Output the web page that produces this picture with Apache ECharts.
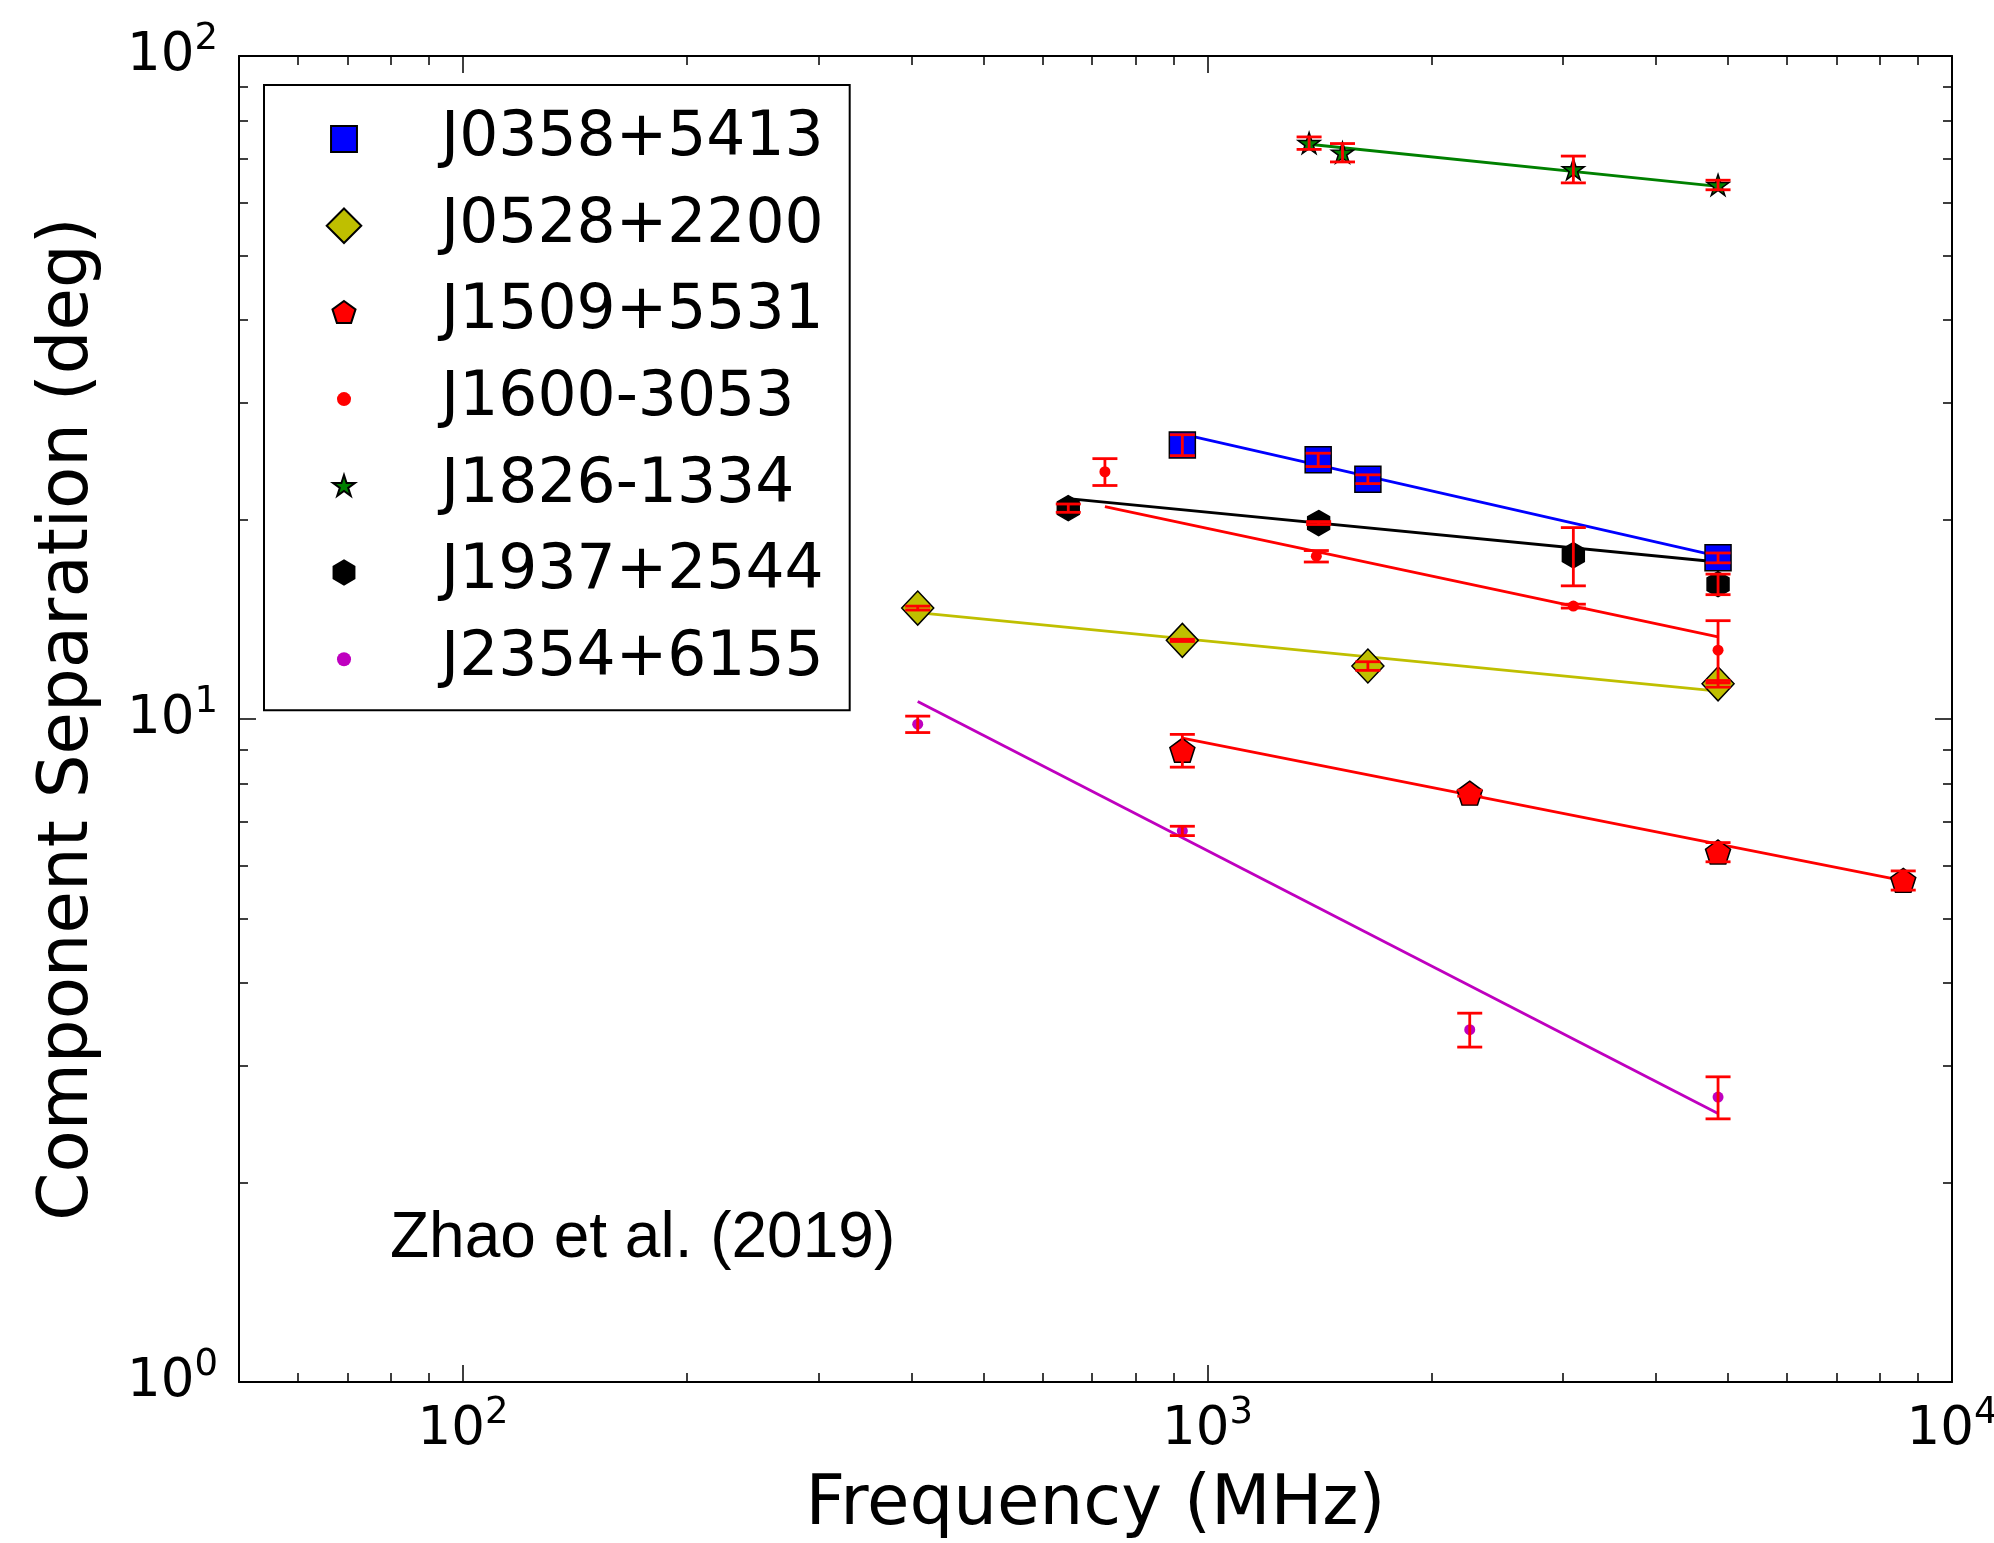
<!DOCTYPE html>
<html>
<head>
<meta charset="utf-8">
<script src="https://cdn.jsdelivr.net/npm/echarts@6/dist/echarts.min.js"></script>
<style>
html, body { margin: 0; padding: 0; background: #fff; }
#chart { width: 1994px; height: 1543px; }
</style>
</head>
<body>
<div id="chart"></div>
<script>
// Component separation (deg) versus observing frequency (MHz) for seven pulsars.
// Each pulsar: measured points, their 1-sigma errors and the end points of its power-law fit.
const freqJ0358 = [925, 1408, 1642, 4850];
const sepJ0358  = [25.9, 24.6, 23.0, 17.5];
const errJ0358  = [0.94, 0.57, 0.35, 0.3];
const fitJ0358  = [[925, 26.9], [4850, 17.6]];

const freqJ0528 = [408, 925, 1642, 4850];
const sepJ0528  = [14.7, 13.14, 12.02, 11.3];
const errJ0528  = [0.1, 0.05, 0.18, 0.13];
const fitJ0528  = [[408, 14.47], [4850, 11.02]];

const freqJ1509 = [925, 2250, 4850, 8600];
const sepJ1509  = [8.97, 7.73, 6.30, 5.71];
const errJ1509  = [0.51, 0.08, 0.21, 0.19];
const fitJ1509  = [[925, 9.36], [8900, 5.66]];

const freqJ1600 = [728, 1400, 3100, 4850];
const sepJ1600  = [23.6, 17.6, 14.8, 12.7];
const errJ1600  = [1.10, 0.35, 0.1, 1.37];
const fitJ1600  = [[728, 20.9], [4850, 13.3]];

const freqJ1826 = [1369, 1518, 3100, 4850];
const sepJ1826  = [73.9, 71.5, 67.5, 63.9];
const errJ1826  = [1.6, 2.28, 3.14, 1.06];
const fitJ1826  = [[1369, 73.6], [4850, 63.6]];

const freqJ1937 = [650, 1410, 3100, 4850];
const sepJ1937  = [20.8, 19.75, 17.66, 15.97];
const errJ1937  = [0.3, 0.1, 1.78, 0.57];
const fitJ1937  = [[650, 21.5], [4850, 17.25]];

const freqJ2354 = [408, 925, 2250, 4850];
const sepJ2354  = [9.82, 6.78, 3.40, 2.69];
const errJ2354  = [0.28, 0.11, 0.20, 0.196];
const fitJ2354  = [[408, 10.63], [4850, 2.54]];

// Axis ticks
const xMajorTicks = [100, 1000, 10000];
const xMinorTicks = [60, 70, 80, 90, 200, 300, 400, 500, 600, 700, 800, 900,
                     2000, 3000, 4000, 5000, 6000, 7000, 8000, 9000];
const yMajorTicks = [1, 10, 100];
const yMinorTicks = [2, 3, 4, 5, 6, 7, 8, 9, 20, 30, 40, 50, 60, 70, 80, 90];

// Marker outlines in a 100x100 box
const SHAPE_SQUARE  = 'M14 14L86 14L86 86L14 86Z';
const SHAPE_DIAMOND = 'M50 2L98 50L50 98L2 50Z';
const SHAPE_PENTA   = 'M50 18.4L82 41.6L69.8 79.2L30.2 79.2L18 41.6Z';
const SHAPE_DOT     = 'M30.5 50A19.5 19.5 0 1 0 69.5 50A19.5 19.5 0 1 0 30.5 50Z';
const SHAPE_STAR    = 'M50 20L57.2 42.1L80.4 42.1L61.6 55.8L68.8 77.9L50 64.2L31.2 77.9L38.4 55.8L19.6 42.1L42.8 42.1Z';
const SHAPE_HEX     = 'M50 16.5L79 33.25L79 66.75L50 83.5L21 66.75L21 33.25Z';
const ICON_FRAME    = 'M0 0M100 100';

const pulsars = [
  { name: 'J0358+5413', freq: freqJ0358, sep: sepJ0358, err: errJ0358, fit: fitJ0358,
    color: '#0000ff', symbol: 'rect', size: [26, 26], edge: true, shape: SHAPE_SQUARE },
  { name: 'J0528+2200', freq: freqJ0528, sep: sepJ0528, err: errJ0528, fit: fitJ0528,
    color: '#bfbf00', symbol: 'diamond', size: [32, 34], edge: true, shape: SHAPE_DIAMOND },
  { name: 'J1509+5531', freq: freqJ1509, sep: sepJ1509, err: errJ1509, fit: fitJ1509,
    color: '#ff0000', symbol: 'path://' + SHAPE_PENTA, size: [25, 24], edge: true, shape: SHAPE_PENTA },
  { name: 'J1600-3053', freq: freqJ1600, sep: sepJ1600, err: errJ1600, fit: fitJ1600,
    color: '#ff0000', symbol: 'circle', size: 11, edge: false, shape: SHAPE_DOT },
  { name: 'J1826-1334', freq: freqJ1826, sep: sepJ1826, err: errJ1826, fit: fitJ1826,
    color: '#008000', symbol: 'path://' + SHAPE_STAR, size: [22, 21], edge: true, shape: SHAPE_STAR },
  { name: 'J1937+2544', freq: freqJ1937, sep: sepJ1937, err: errJ1937, fit: fitJ1937,
    color: '#000000', symbol: 'path://' + SHAPE_HEX, size: [22, 25], edge: true, shape: SHAPE_HEX },
  { name: 'J2354+6155', freq: freqJ2354, sep: sepJ2354, err: errJ2354, fit: fitJ2354,
    color: '#bf00bf', symbol: 'circle', size: 11, edge: false, shape: SHAPE_DOT }
];

const FONT = '"DejaVu Sans", sans-serif';
const ERR_RED = '#ff0000';

// Power-of-ten tick labels: "10" with a raised exponent
const powerRich = {
  b: { fontFamily: FONT, fontSize: 53, lineHeight: 70, color: '#000' },
  s: { fontFamily: FONT, fontSize: 37, lineHeight: 37, verticalAlign: 'top', color: '#000' }
};
function powerLabel(v) {
  return '{b|10}{s|' + Math.round(Math.log10(v)) + '}';
}

const frameLine = { show: true, lineStyle: { color: '#000', width: 2 } };
const tickStyle = { color: '#000', width: 1.5 };

function logAxis(kind, position, major, withLine, withLabels) {
  const isX = kind === 'x';
  const ticks = major ? (isX ? xMajorTicks : yMajorTicks) : (isX ? xMinorTicks : yMinorTicks);
  return {
    type: 'log', logBase: 10,
    min: isX ? 50 : 1, max: isX ? 10000 : 100,
    position: position,
    axisLine: withLine ? frameLine : { show: false },
    axisTick: { show: true, inside: true, length: major ? 17 : 9, customValues: ticks, lineStyle: tickStyle },
    axisLabel: withLabels
      ? { show: true, customValues: ticks, formatter: powerLabel, rich: powerRich, margin: isX ? 13 : 21 }
      : { show: false },
    splitLine: { show: false },
    minorTick: { show: false },
    minorSplitLine: { show: false }
  };
}

const xAxes = [
  Object.assign(logAxis('x', 'bottom', true, true, true), {
    name: 'Frequency (MHz)', nameLocation: 'middle', nameGap: 90,
    nameTextStyle: { fontFamily: FONT, fontSize: 69, color: '#000' }
  }),
  logAxis('x', 'bottom', false, false, false),
  logAxis('x', 'top', true, true, false),
  logAxis('x', 'top', false, false, false)
];
const yAxes = [
  Object.assign(logAxis('y', 'left', true, true, true), {
    name: 'Component Separation (deg)', nameLocation: 'middle', nameGap: 135,
    nameTextStyle: { fontFamily: FONT, fontSize: 69, color: '#000' }
  }),
  logAxis('y', 'left', false, false, false),
  logAxis('y', 'right', true, true, false),
  logAxis('y', 'right', false, false, false)
];

const series = [];
// power-law fits, drawn beneath the markers
pulsars.forEach(p => {
  series.push({
    type: 'line', name: p.name + ' fit', data: p.fit,
    symbol: 'none', z: 2, silent: true,
    lineStyle: { color: p.color, width: 2.8 }
  });
});
// measured points
pulsars.forEach(p => {
  series.push({
    type: 'scatter', name: p.name,
    data: p.freq.map((f, i) => [f, p.sep[i]]),
    symbol: p.symbol, symbolSize: p.size, z: 3,
    itemStyle: p.edge
      ? { color: p.color, borderColor: '#000', borderWidth: 1.5, opacity: 1 }
      : { color: p.color, borderWidth: 0, opacity: 1 }
  });
});
// error bars with caps, on top of the markers
const errData = [];
pulsars.forEach(p => p.freq.forEach((f, i) => errData.push([f, p.sep[i], p.err[i]])));
series.push({
  type: 'custom', name: 'errors', z: 4, silent: true,
  data: errData,
  encode: { x: 0, y: 1 },
  renderItem: function (params, api) {
    const f = api.value(0), v = api.value(1), e = api.value(2);
    const hi = api.coord([f, v + e]);
    const lo = api.coord([f, v - e]);
    const hw = 12.5;
    const st = { stroke: ERR_RED, lineWidth: 2.8 };
    return {
      type: 'group',
      children: [
        { type: 'line', shape: { x1: hi[0], y1: hi[1], x2: lo[0], y2: lo[1] }, style: st },
        { type: 'line', shape: { x1: hi[0] - hw, y1: hi[1], x2: hi[0] + hw, y2: hi[1] }, style: st },
        { type: 'line', shape: { x1: lo[0] - hw, y1: lo[1], x2: lo[0] + hw, y2: lo[1] }, style: st }
      ]
    };
  }
});

const chart = echarts.init(document.getElementById('chart'), null, { renderer: 'canvas' });
chart.setOption({
  animation: false,
  backgroundColor: '#ffffff',
  grid: { left: 239, right: 42, top: 56, bottom: 161, containLabel: false, outerBoundsMode: 'none' },
  xAxis: xAxes,
  yAxis: yAxes,
  legend: {
    orient: 'vertical', left: 264, top: 85,
    padding: [19, 26, 16, 61],
    itemWidth: 36, itemHeight: 36, itemGap: 16.7,
    borderColor: '#000', borderWidth: 2, backgroundColor: '#fff',
    selectedMode: false,
    textStyle: { fontFamily: FONT, fontSize: 61.5, color: '#000', lineHeight: 70, padding: [0, 0, 0, 74] },
    data: pulsars.map(p => ({ name: p.name, icon: 'path://' + ICON_FRAME + p.shape }))
  },
  graphic: [{
    type: 'text', z: 10,
    style: {
      x: 390, y: 1239, text: 'Zhao et al. (2019)',
      font: '64px "Liberation Sans", Arial, sans-serif',
      fill: '#000', align: 'left', verticalAlign: 'middle'
    }
  }],
  series: series
});
</script>
</body>
</html>
